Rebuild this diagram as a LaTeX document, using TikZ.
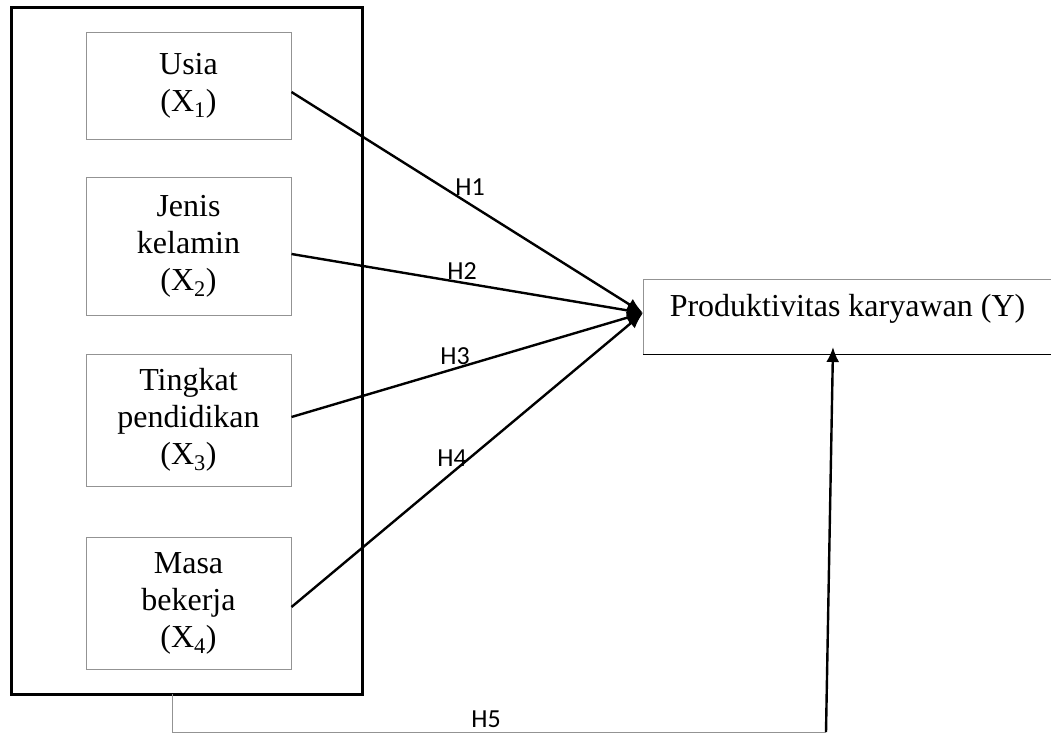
\documentclass[tikz,border=0pt]{standalone}
\usepackage{fontspec}
\setmainfont{Liberation Serif}
\newfontfamily\hfont{Carlito}
\usetikzlibrary{arrows.meta}
\begin{document}
\begin{tikzpicture}[x=1pt,y=-1pt,
  varbox/.style={draw=gray!85, line width=1pt, minimum width=205pt, align=center,
    font=\fontsize{32}{37}\selectfont, inner sep=0pt},
  hlabel/.style={font=\hfont\fontsize{26}{30}\selectfont, inner sep=0pt},
  arr/.style={line width=2.4pt, -{Latex[length=16pt,width=13pt]}},
  uparr/.style={line width=2.4pt, -{Latex[length=15pt,width=13pt]}},
  thinline/.style={draw=gray!85, line width=1pt}]
\useasboundingbox (0,0) rectangle (1051,733);

\node[draw, line width=3pt, minimum width=351pt, minimum height=686pt, inner sep=0pt, outer sep=0pt] (outer) at (186.5,351) {};

\node[varbox, minimum height=106pt] (x1) at (188.5,86) {Usia\\(X\textsubscript{1})};
\node[varbox, minimum height=138pt] (x2) at (188.5,246) {Jenis\\kelamin\\(X\textsubscript{2})};
\node[varbox, minimum height=132pt] (x3) at (188.5,420) {Tingkat\\pendidikan\\(X\textsubscript{3})};
\node[varbox, minimum height=132pt] (x4) at (188.5,603) {Masa\\bekerja\\(X\textsubscript{4})};

\node[minimum width=408pt, minimum height=75pt, inner sep=0pt, outer sep=0pt] (Y) at (847,316.5) {};
\draw[thinline] (Y.north east) -- (Y.north west) -- (Y.south west);
\draw[line width=1pt] (Y.south west) -- (Y.south east);
\node[font=\fontsize{32}{37}\selectfont, inner sep=0pt] (ytext) at (847.5,309) {Produktivitas karyawan (Y)};

\coordinate (tip) at (643,313);
\draw[arr] ([yshift=-6pt]x1.east) -- (tip);
\draw[arr] ([yshift=-8pt]x2.east) -- (tip);
\draw[arr] ([yshift=3pt]x3.east) -- (tip);
\draw[arr] ([yshift=-4pt]x4.east) -- (tip);

\node[hlabel] (h1) at (470,187) {H1};
\node[hlabel] (h2) at (462,271) {H2};
\node[hlabel] (h3) at (455,356) {H3};
\node[hlabel] (h4) at (452,458) {H4};
\node[hlabel] (h5) at (486,719) {H5};

\coordinate (c2) at (172,732);
\coordinate (c3) at (826,732);
\coordinate (ytip) at (833,347);
\draw[thinline] ([xshift=-14.5pt]outer.south) -- (c2) -- (c3);
\draw[uparr] (c3) -- (ytip);
\end{tikzpicture}
\end{document}
